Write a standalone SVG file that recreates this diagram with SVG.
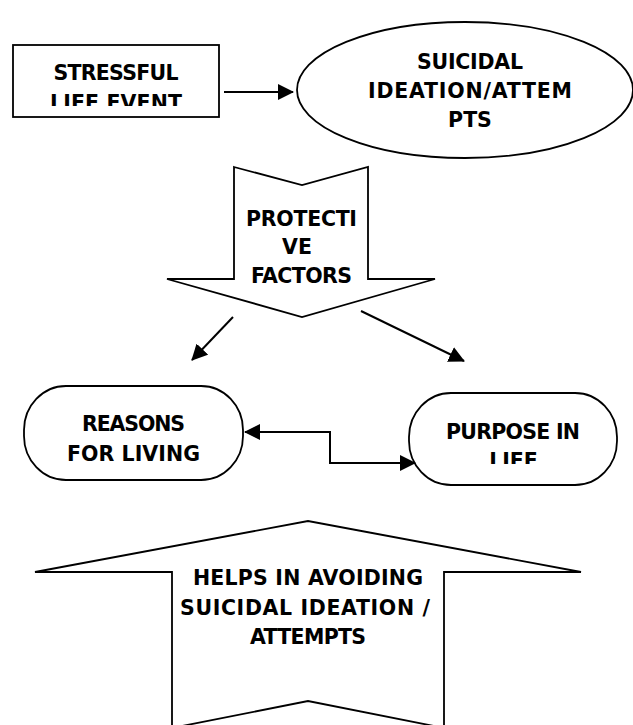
<svg xmlns="http://www.w3.org/2000/svg" width="633" height="725" viewBox="0 0 633 725">
<style>
  .shape { fill: #ffffff; stroke: #000000; stroke-width: 1.8; }
  .conn { fill: none; stroke: #000000; stroke-width: 2; }
  .lbl { font-family: "DejaVu Sans", "Liberation Sans", sans-serif; font-weight: bold; font-size: 20.5px; fill: #000000; text-anchor: middle; }
</style>
<defs>
  <marker id="ah" viewBox="0 0 16 16" refX="15" refY="8" markerWidth="16" markerHeight="16" markerUnits="userSpaceOnUse" orient="auto-start-reverse">
    <path d="M0,0 L16,8 L0,16 z" fill="#000000"/>
  </marker>
  <clipPath id="clipStress"><rect x="13" y="45" width="206" height="61"/></clipPath>
  <clipPath id="clipPurpose"><rect x="409" y="393" width="208" height="71"/></clipPath>
</defs>
<rect width="633" height="725" fill="#ffffff"/>

<g id="stressful-life-event">
  <rect class="shape" x="13" y="45" width="206" height="72" stroke-width="2.2"/>
  <g clip-path="url(#clipStress)">
    <text class="lbl" x="116" y="80" textLength="125">STRESSFUL</text>
    <text class="lbl" x="116" y="109.5" textLength="132">LIFE EVENT</text>
  </g>
</g>

<g id="suicidal-ideation">
  <ellipse class="shape" cx="465" cy="90" rx="168" ry="68"/>
  <text class="lbl" x="470" y="68.5" textLength="106">SUICIDAL</text>
  <text class="lbl" x="470" y="97.5" textLength="204">IDEATION/ATTEM</text>
  <text class="lbl" x="470" y="126.5">PTS</text>
</g>

<g id="protective-factors">
  <polygon class="shape" points="234,167 302,185 368,167 368,279 435,279 302,317 167,279 234,279"/>
  <text class="lbl" x="301.5" y="225.5" textLength="111">PROTECTI</text>
  <text class="lbl" x="297" y="253.5">VE</text>
  <text class="lbl" x="301.5" y="283" textLength="101">FACTORS</text>
</g>

<g id="reasons-for-living">
  <rect class="shape" x="24" y="386" width="219" height="94" rx="42" ry="44"/>
  <text class="lbl" x="133.5" y="430.5" textLength="103">REASONS</text>
  <text class="lbl" x="133.5" y="460.5" textLength="133">FOR LIVING</text>
</g>

<g id="purpose-in-life">
  <rect class="shape" x="409" y="393" width="208" height="92" rx="42" ry="44"/>
  <g clip-path="url(#clipPurpose)">
    <text class="lbl" x="513" y="438.5" textLength="134">PURPOSE IN</text>
    <text class="lbl" x="513.5" y="467.5">LIFE</text>
  </g>
</g>

<g id="helps-avoiding">
  <polygon class="shape" points="172,728 172,572 35,572 308,521 581,572 444,572 444,728 308,701"/>
  <text class="lbl" x="308" y="584.5" textLength="230">HELPS IN AVOIDING</text>
  <text class="lbl" x="305" y="615" textLength="250">SUICIDAL IDEATION /</text>
  <text class="lbl" x="308" y="643.5" textLength="116">ATTEMPTS</text>
</g>

<g id="connectors">
  <line class="conn" x1="224" y1="92" x2="293" y2="92" marker-end="url(#ah)"/>
  <line class="conn" x1="233" y1="317" x2="192" y2="360" marker-end="url(#ah)"/>
  <line class="conn" x1="361" y1="311" x2="464" y2="361" marker-end="url(#ah)"/>
  <polyline class="conn" points="245,432 330,432 330,463 415,463" marker-start="url(#ah)" marker-end="url(#ah)"/>
</g>
</svg>
